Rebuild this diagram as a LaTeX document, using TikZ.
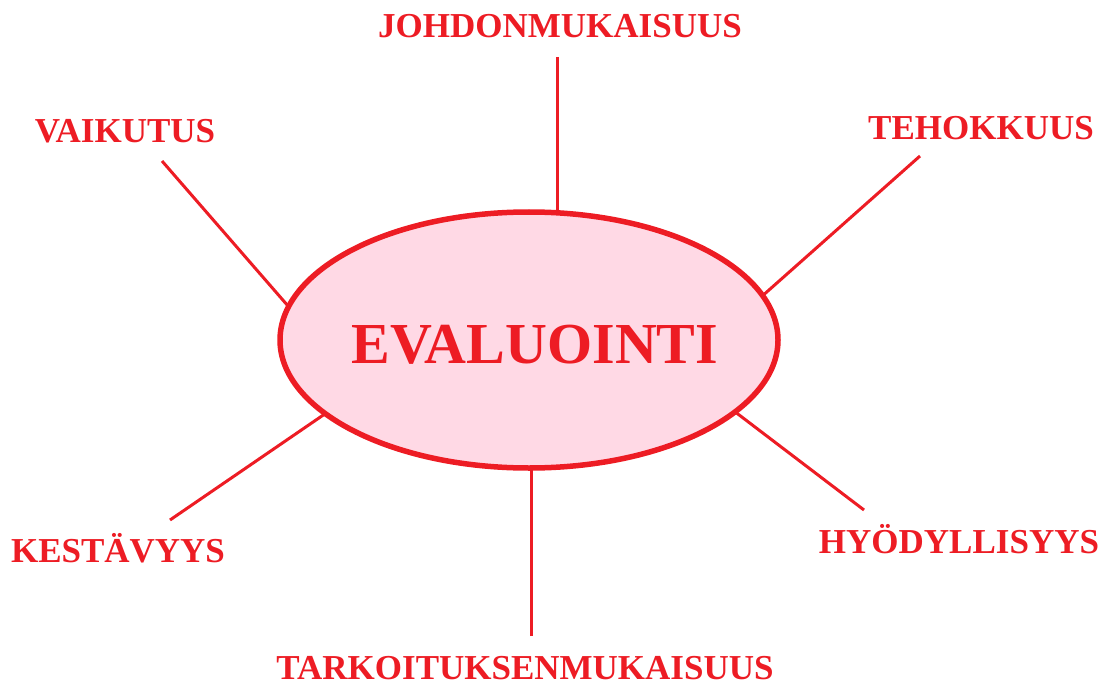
\documentclass[tikz,border=0pt]{standalone}
\usepackage{fontspec}
\setmainfont{Liberation Serif}
\usetikzlibrary{shapes.geometric}
\definecolor{evred}{RGB}{237,28,36}
\definecolor{evpink}{RGB}{255,217,229}
\begin{document}
\begin{tikzpicture}[x=1pt,y=-1pt,
  lbl/.style={text=evred,font=\fontsize{35}{40}\selectfont\bfseries,inner sep=0pt,anchor=base,text depth=0pt},
  conn/.style={draw=evred,line width=3pt},
  mainell/.style={ellipse,draw=evred,line width=5.5pt,fill=evpink,minimum width=498pt,minimum height=256pt,inner sep=0pt}]
\useasboundingbox (0,0) rectangle (1103,687);
% connector end points
\coordinate (j1) at (557,57);   \coordinate (j2) at (557,225);
\coordinate (v1) at (162,161);  \coordinate (v2) at (295,314);
\coordinate (t1) at (920,156);  \coordinate (t2) at (760,298);
\coordinate (k1) at (170,520);  \coordinate (k2) at (335,407);
\coordinate (h1) at (864,510);  \coordinate (h2) at (730,408);
\coordinate (r1) at (531,636);  \coordinate (r2) at (531,455);
\draw[conn] (j1) -- (j2);
\draw[conn] (v1) -- (v2);
\draw[conn] (t1) -- (t2);
\draw[conn] (k1) -- (k2);
\draw[conn] (h1) -- (h2);
\draw[conn] (r1) -- (r2);
\node[mainell] (e) at (529,340) {};
\node[lbl,font=\fontsize{58}{64}\selectfont\bfseries] (ev) at (535,363) {EVALUOINTI};
\node[lbl] (jo) at (560,38) {JOHDONMUKAISUUS};
\node[lbl] (va) at (125,143) {VAIKUTUS};
\node[lbl] (te) at (981,140) {TEHOKKUUS};
\node[lbl] (ke) at (118,562) {KESTÄVYYS};
\node[lbl] (hy) at (959,553) {HYÖDYLLISYYS};
\node[lbl] (ta) at (525,679) {TARKOITUKSENMUKAISUUS};
\end{tikzpicture}
\end{document}
